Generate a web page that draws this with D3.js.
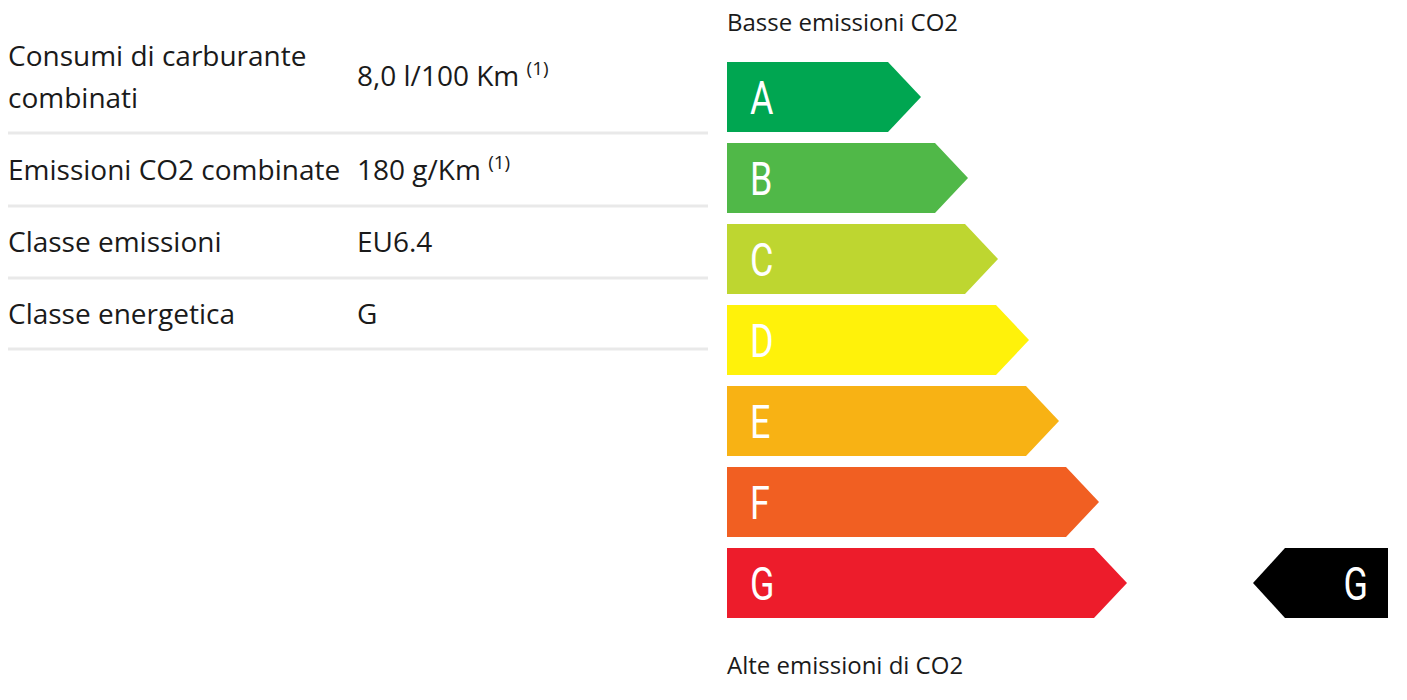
<!DOCTYPE html>
<html>
<head>
<meta charset="utf-8">
<script src="https://cdn.jsdelivr.net/npm/d3@7"></script>
<style>
body { margin:0; background:#fff; font-family:"Open Sans", sans-serif; }
</style>
</head>
<body>
<div id="chart"></div>
<script>
// tabella dati
var rowLabels = [["Consumi di carburante","combinati"],["Emissioni CO2 combinate"],["Classe emissioni"],["Classe energetica"]];
var rowValues = ["8,0 l/100 Km","180 g/Km","EU6.4","G"];
var rowNotes = ["(1)","(1)","",""];

// etichetta energetica
var classes = ["A","B","C","D","E","F","G"];
var arrowLength = [194,241,271,302,332,372,400];
var classColors = ["#00a651","#50b848","#bed630","#fff20a","#f8b214","#f15f22","#ed1c2b"];
var currentClass = "G";
var topLabel = "Basse emissioni CO2";
var bottomLabel = "Alte emissioni di CO2";

var width = 1407, height = 700;

var svg = d3.select("#chart").append("svg")
    .attr("width", width)
    .attr("height", height);

// ---- tabella ----
var rowBase = [66, 180, 252, 324];
var lineY = [133, 206, 278, 349];

var tab = svg.append("g").attr("class","tabella");

rowLabels.forEach(function(lab, i){
    var t = tab.append("text")
        .attr("x", 8)
        .attr("y", rowBase[i])
        .style("font-size","28px")
        .style("fill","#1a1a1a");
    lab.forEach(function(l, j){
        t.append("tspan").attr("x",8).attr("y", rowBase[i] + j*42).text(l);
    });

    var vy = lab.length > 1 ? 86 : rowBase[i];
    var v = tab.append("text")
        .attr("x", 357)
        .attr("y", vy)
        .style("font-size","28px")
        .style("fill","#1a1a1a")
        .text(rowValues[i]);
    if (rowNotes[i] != "") {
        v.append("tspan").text(" ");
        v.append("tspan")
            .attr("dy", -11)
            .style("font-size","19px")
            .text(rowNotes[i]);
    }

    tab.append("line")
        .attr("x1", 8).attr("x2", 708)
        .attr("y1", lineY[i]).attr("y2", lineY[i])
        .attr("stroke","#e9e9e9")
        .attr("stroke-width",3);
});

// ---- frecce ----
var x = d3.scaleLinear().domain([0, 400]).range([727, 1127]);
var y = d3.scaleBand().domain(classes).range([62, 618]).paddingInner(11/81);
var h = y.bandwidth();
var tip = 33;

var arrows = svg.selectAll("g.arrow")
    .data(classes)
    .enter()
    .append("g")
    .attr("class","arrow");

arrows.append("path")
    .attr("fill", function(d,i){ return classColors[i]; })
    .attr("d", function(d,i){
        var x0 = x(0), x1 = x(arrowLength[i]), y0 = y(d);
        return "M" + x0 + "," + y0 +
               "L" + (x1 - tip) + "," + y0 +
               "L" + x1 + "," + (y0 + h/2) +
               "L" + (x1 - tip) + "," + (y0 + h) +
               "L" + x0 + "," + (y0 + h) + "Z";
    });

arrows.append("text")
    .attr("transform", function(d){ return "translate(750," + (y(d) + h/2 + 17) + ") scale(0.78,1)"; })
    .style("font-family","Roboto, sans-serif")
    .style("font-size","46px")
    .style("fill","#fff")
    .text(function(d){ return d; });

// indicatore classe attuale
var yc = y(currentClass);
var bx1 = 1388, bx0 = 1253;
svg.append("path")
    .attr("fill","#000")
    .attr("d", "M" + bx0 + "," + (yc + h/2) +
               "L" + (bx0 + 32) + "," + yc +
               "L" + bx1 + "," + yc +
               "L" + bx1 + "," + (yc + h) +
               "L" + (bx0 + 32) + "," + (yc + h) + "Z");
svg.append("text")
    .attr("transform", "translate(1368," + (yc + h/2 + 17) + ") scale(0.78,1)")
    .attr("text-anchor","end")
    .style("font-family","Roboto, sans-serif")
    .style("font-size","46px")
    .style("fill","#fff")
    .text(currentClass);

svg.append("text")
    .attr("x", 727).attr("y", 31)
    .style("font-size","24px")
    .style("fill","#1a1a1a")
    .text(topLabel);

svg.append("text")
    .attr("x", 727).attr("y", 674)
    .style("font-size","24px")
    .style("fill","#1a1a1a")
    .text(bottomLabel);
</script>
</body>
</html>
